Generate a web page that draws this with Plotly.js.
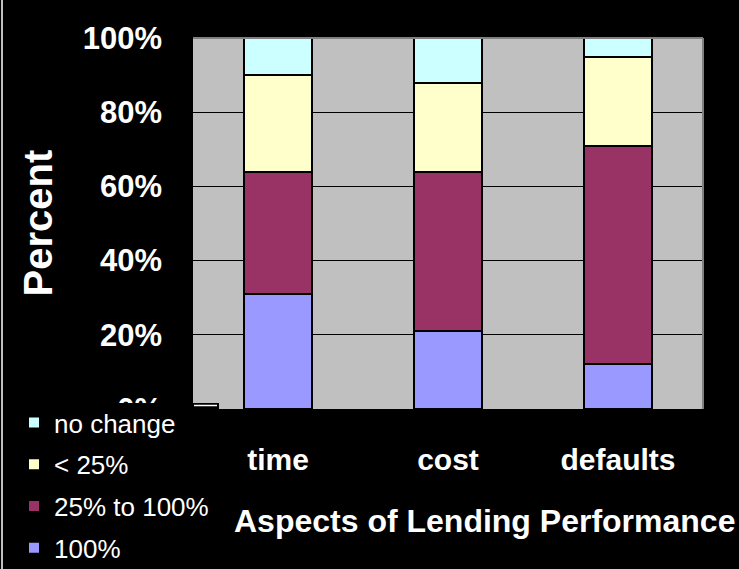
<!DOCTYPE html>
<html>
<head>
<meta charset="utf-8">
<script src="https://cdn.plot.ly/plotly-3.0.1.min.js"></script>
<style>html,body{margin:0;padding:0;background:#000;}#chart{width:739px;height:569px;}</style>
</head>
<body>
<div id="chart"></div>
<script>
// Data (percent of respondents)
var categories = ["time", "cost", "defaults"];
var seriesNames = ["100%", "25% to 100%", "< 25%", "no change"];
var val100 = [31, 21, 12];
var val25to100 = [33, 43, 59];
var valUnder25 = [26, 24, 24];
var valNoChange = [10, 12, 5];
var yTickVals = [0, 20, 40, 60, 80, 100];
var yTickText = ["0%", "20%", "40%", "60%", "80%", "100%"];

var colors = ["#9999FF", "#993366", "#FFFFCC", "#CCFFFF"];
var seriesValues = [val100, val25to100, valUnder25, valNoChange];
var FONT = "Liberation Sans, Arial, Helvetica, sans-serif";

var traces = seriesValues.map(function (vals, i) {
  return {
    type: "bar",
    name: seriesNames[i],
    x: categories,
    y: vals,
    legendgroup: "g" + i,
    legendrank: 1000 - i,
    marker: { color: colors[i], line: { color: "#000000", width: 2 } },
    hoverinfo: "x+y+name"
  };
});

// plot area geometry (pixels)
var W = 739, H = 569, mL = 193, mR = 36, mT = 38, mB = 160;
var pw = W - mL - mR, ph = H - mT - mB;
function px(x) { return (x - mL) / pw; }
function py(y) { return (H - mB - y) / ph; }

var layout = {
  width: W, height: H,
  margin: { l: mL, r: mR, t: mT, b: mB, pad: 0, autoexpand: false },
  paper_bgcolor: "#000000",
  plot_bgcolor: "#C0C0C0",
  barmode: "stack",
  bargap: 0.6,
  showlegend: true,
  font: { family: FONT, color: "#FFFFFF" },
  xaxis: {
    type: "category",
    automargin: false,
    showgrid: false,
    zeroline: false,
    showline: false,
    ticks: "",
    ticklabelstandoff: 30,
    tickfont: { family: FONT, size: 30, color: "#FFFFFF", weight: "bold" },
    fixedrange: true
  },
  yaxis: {
    range: [0, 100],
    automargin: false,
    tickvals: yTickVals,
    ticktext: yTickText,
    showgrid: true,
    gridcolor: "#000000",
    gridwidth: 1,
    zeroline: false,
    showline: false,
    ticks: "",
    ticklabelstandoff: 30,
    tickfont: { family: FONT, size: 31, color: "#FFFFFF", weight: "bold" },
    fixedrange: true
  },
  legend: {
    xref: "container", yref: "container",
    x: 14 / W, y: 1 - 399 / H, xanchor: "left", yanchor: "top",
    bgcolor: "rgba(0,0,0,0)",
    borderwidth: 0,
    traceorder: "grouped",
    tracegroupgap: 5,
    font: { family: FONT, size: 26, color: "#FFFFFF" }
  },
  annotations: [{
    text: "Aspects of Lending Performance",
    xref: "paper", yref: "paper",
    x: px(484), y: py(521), xanchor: "center", yanchor: "middle",
    showarrow: false,
    font: { family: FONT, size: 32, color: "#FFFFFF", weight: "bold" }
  }, {
    text: "Percent",
    xref: "paper", yref: "paper",
    x: px(37), y: 0.5, xanchor: "center", yanchor: "middle",
    textangle: -90,
    showarrow: false,
    font: { family: FONT, size: 40, color: "#FFFFFF", weight: "bold" }
  }],
  shapes: [
    { type: "line", xref: "paper", yref: "paper", x0: 0, x1: 1, y0: 1, y1: 1, line: { color: "#808080", width: 2 }, layer: "above" },
    { type: "line", xref: "paper", yref: "paper", x0: 1, x1: 1, y0: 0, y1: 1, line: { color: "#808080", width: 2 }, layer: "above" },
    { type: "rect", xref: "paper", yref: "paper", x0: px(0), x1: px(219), y0: py(403), y1: py(H + 2), fillcolor: "#000000", line: { width: 0 }, layer: "above" },
    { type: "line", xref: "paper", yref: "paper", x0: px(194), x1: px(217), y0: py(405.5), y1: py(405.5), line: { color: "#FFFFFF", width: 1.5 }, layer: "above" },
    { type: "line", xref: "paper", yref: "paper", x0: px(2), x1: px(2), y0: py(0), y1: py(H), line: { color: "#FFFFFF", width: 1.5 }, layer: "above" }
  ]
};

Plotly.newPlot("chart", traces, layout, { displayModeBar: false, staticPlot: true });
</script>
</body>
</html>
